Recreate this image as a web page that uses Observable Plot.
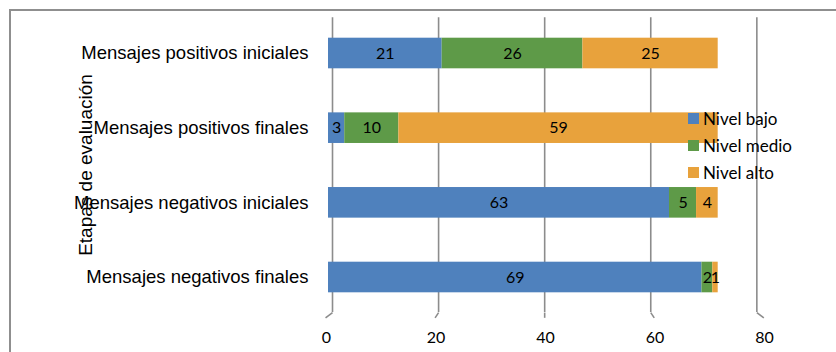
<!DOCTYPE html>
<html>
<head>
<meta charset="utf-8">
<script src="https://cdn.jsdelivr.net/npm/d3@7"></script>
<script src="https://cdn.jsdelivr.net/npm/@observablehq/plot@0.6"></script>
<style>
  html, body { margin: 0; padding: 0; background: #fff; }
  #wrap { position: relative; width: 836px; height: 352px; overflow: hidden; background: #fff; }
  #frame { position: absolute; left: 9px; top: 9px; width: 900px; height: 400px; z-index: 5; pointer-events: none;
           border-top: 2.5px solid #8f8f8f; border-left: 2.5px solid #8f8f8f; box-sizing: border-box; }
  #chart { position: absolute; left: 0; top: 0; }
  #chart svg g[aria-label^="y-axis"] text { font-family: "Liberation Sans", Arial, sans-serif; font-size: 18.5px; }
  #legend { position: absolute; left: 688px; top: 105px; font-family: Lato, sans-serif; font-size: 17px; color: #000; z-index: 6; }
  #legend .item { display: flex; align-items: center; height: 27px; }
  #legend .sw { width: 11px; height: 11px; margin-right: 4px; }
</style>
</head>
<body>
<div id="wrap">
  <div id="chart"></div>
  <div id="frame"></div>
  <div id="legend"></div>
</div>
<script>
const categories = [
  "Mensajes positivos iniciales",
  "Mensajes positivos finales",
  "Mensajes negativos iniciales",
  "Mensajes negativos finales"
];
const series = ["Nivel bajo", "Nivel medio", "Nivel alto"];
const nivelBajo = [21, 3, 63, 69];
const nivelMedio = [26, 10, 5, 2];
const nivelAlto = [25, 59, 4, 1];
const xTicks = [0, 20, 40, 60, 80];
const yLabel = "Etapas de evaluación";
const colors = ["#4f81bd", "#5e9a48", "#e8a23c"];

const seriesValues = [nivelBajo, nivelMedio, nivelAlto];
const table = [];
series.forEach((s, si) => {
  categories.forEach((c, i) => {
    table.push({cat: c, idx: i, serie: s, value: seriesValues[si][i]});
  });
});

// pseudo-3D depth: the gridline "wall" sits slightly behind the bars
const wall = d => 0.74 + d * 0.98;
const foot = d => wall(d) + (d - 40) / 31;
const labelPos = d => d * 1.0115 - 0.37;

const chart = Plot.plot({
  width: 836,
  height: 352,
  marginLeft: 328,
  marginRight: 75,
  marginTop: 0,
  marginBottom: 20,
  style: {background: "transparent", fontFamily: "Lato, sans-serif", fontSize: "16px", color: "#000"},
  x: {domain: [0, 80], axis: null},
  y: {domain: [-0.5, 3.6], range: [15.67, 321.8], ticks: [0, 1, 2, 3],
      tickFormat: i => categories[i], tickSize: 0, tickPadding: 20, label: null},
  color: {domain: series, range: colors},
  marks: [
    Plot.ruleX(xTicks, {x: wall, y1: -0.48, y2: 3.47, stroke: "#8c8c8c", strokeWidth: 1.6}),
    Plot.link(xTicks, {x1: wall, y1: 3.47, x2: foot, y2: 3.54, stroke: "#8c8c8c", strokeWidth: 1.6}),
    Plot.rect(table, Plot.stackX({
      x: "value", y: "idx",
      y1: d => d.idx - 0.205, y2: d => d.idx + 0.205,
      fill: "serie"
    })),
    Plot.text(table, Plot.stackX({
      x: "value", y: "idx", text: d => String(d.value),
      fill: "#000", fontFamily: "Lato, sans-serif", fontSize: 16
    })),
    Plot.text(xTicks, {
      x: labelPos, frameAnchor: "bottom", dy: 10, text: d => String(d),
      textAnchor: "middle", fill: "#000", fontFamily: "Lato, sans-serif", fontSize: 16
    }),
    Plot.text([yLabel], {
      frameAnchor: "left", textAnchor: "middle", rotate: -90, dx: -243, dy: -1.5, text: d => d,
      fill: "#000", fontFamily: "Liberation Sans, Arial, sans-serif", fontSize: 19
    })
  ]
});
document.getElementById("chart").appendChild(chart);

const legend = document.getElementById("legend");
series.forEach((s, i) => {
  const item = document.createElement("div");
  item.className = "item";
  const sw = document.createElement("span");
  sw.className = "sw";
  sw.style.background = colors[i];
  const label = document.createElement("span");
  label.textContent = s;
  item.appendChild(sw);
  item.appendChild(label);
  legend.appendChild(item);
});
</script>
</body>
</html>
